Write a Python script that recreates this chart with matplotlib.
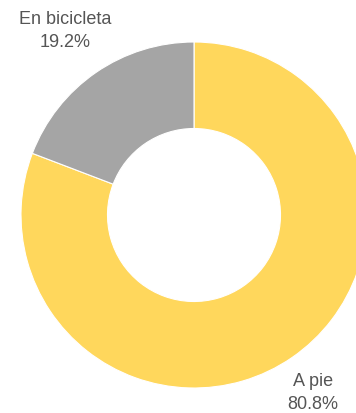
import matplotlib
matplotlib.use("Agg")
import matplotlib.pyplot as plt

categories = ["A pie", "En bicicleta"]
values = [80.8, 19.2]
colors = ["#FFD75C", "#A5A5A5"]

W, H = 356, 413
fig = plt.figure(figsize=(W / 100, H / 100), dpi=100)
ax = fig.add_axes([0, 0, 1, 1])

cx, cy, r = 194, H - 215, 173
ax.pie(values, colors=colors, startangle=90, counterclock=False,
       center=(cx, cy), radius=r, frame=True,
       wedgeprops=dict(width=r * 0.5, edgecolor="white", linewidth=0.8))
ax.set_xlim(0, W)
ax.set_ylim(0, H)
ax.set_aspect("equal")
ax.axis("off")

label_pos = {"En bicicleta": (65, H - 31), "A pie": (313, H - 393)}
for cat, val in zip(categories, values):
    x, y = label_pos[cat]
    ax.text(x, y, f"{cat}\n{val:.1f}%", ha="center", va="center",
            fontsize=13, color="#555555", family="Liberation Sans",
            linespacing=1.45)

fig.savefig("out.png", dpi=100)
